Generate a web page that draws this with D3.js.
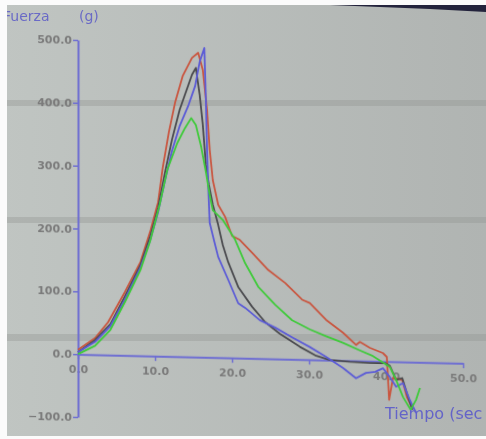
<!DOCTYPE html>
<html>
<head>
<meta charset="utf-8">
<script src="https://cdn.jsdelivr.net/npm/d3@7"></script>
<style>
  html, body { margin: 0; padding: 0; background: #fff; }
  svg { display: block; }
</style>
</head>
<body>
<div id="chart"></div>
<script>
// tick values
var xTicks = [0, 10, 20, 30, 40, 50]
var yTicks = [-100, 0, 100, 200, 300, 400, 500]

// [tiempo (s), fuerza (g)]
var redSeries = [[0,7],[2.2,26],[3.9,52],[6.1,101],[8.1,149],[9.35,197],[10.4,245],[11,300],[11.8,357],[12.6,404],[13.6,447],[14.8,476],[15.6,484],
  [16.2,457],[16.75,394],[17.1,330],[17.5,282],[18.2,243],[19.1,224],[20,194],[21,188],[22.6,168],[24.7,141],[26.9,121],[29.1,95],[30.1,90],
  [32.2,64],[34.4,44],[36.1,25],[36.6,30],[37.9,21],[39.6,13],[40.1,7],[40.4,-61],[40.9,-26],[42.1,-29],[42.7,-56],[43.4,-73]]

var blackSeries = [[0,3],[2.2,23],[4.2,49],[6.1,94],[8.1,144],[9.35,189],[10.4,236],[11.3,293],[12.2,345],[13.2,393],[14.2,428],[14.8,449],[15.3,460],
  [15.8,417],[16.2,370],[16.6,306],[17,274],[17.5,243],[18.2,211],[18.8,179],[19.5,152],[20.8,113],[22.6,82],[24.3,58],[26.2,40],[28.8,20],
  [30.8,7],[32.7,0],[35.3,-2],[37.9,-3],[39.9,-3],[40.5,-7],[41.3,-29],[42.1,-26],[42.9,-57],[43.4,-76]]

var blueSeries = [[0,3],[2.2,20],[4.2,46],[6.1,89],[8.1,140],[9.35,183],[10.4,229],[11.3,280],[12.2,327],[13.2,367],[14.3,399],[15.2,431],[15.8,470],[16.4,492],
  [16.6,410],[16.75,330],[16.9,274],[17.1,214],[17.7,184],[18.2,160],[19.5,124],[20.8,87],[21.7,80],[23.6,61],[25.7,49],[27.9,34],[30.1,20],
  [32.2,5],[34.4,-12],[36.1,-28],[37.4,-19],[38.6,-17],[39.6,-11],[40.5,-25],[41.3,-40],[42.2,-34],[43.1,-61],[43.9,-81]]

var greenSeries = [[0,0],[2.2,14],[4.2,40],[6.1,85],[8.1,136],[9.35,182],[10.6,241],[11.6,297],[12.9,340],[13.9,364],[14.7,380],
  [15.3,369],[16,334],[16.6,295],[17.1,258],[17.5,234],[18.8,219],[20.4,188],[21.7,151],[23.4,114],[25.6,86],[27.8,62],[30.1,48],
  [32.2,38],[34.4,28],[36.5,17],[38.3,8],[40.5,-9],[41.3,-29],[42.2,-56],[43.2,-76],[43.9,-60],[44.4,-41]]

var series = [
  {name: "rojo", data: redSeries, color: "#c9553f"},
  {name: "negro", data: blackSeries, color: "#4a4a4e"},
  {name: "azul", data: blueSeries, color: "#5b5bd6"},
  {name: "verde", data: greenSeries, color: "#3fca3a"}
]

var width = 486, height = 439

var svg = d3.select("#chart").append("svg")
    .attr("width", width).attr("height", height)

var defs = svg.append("defs")
var grad = defs.append("linearGradient").attr("id", "bg").attr("x1", 0).attr("x2", 1).attr("y1", 0).attr("y2", 0)
grad.append("stop").attr("offset", 0).attr("stop-color", "#c0c5c2")
grad.append("stop").attr("offset", 1).attr("stop-color", "#b0b4b2")
defs.append("filter").attr("id", "soft")
    .append("feGaussianBlur").attr("stdDeviation", 0.55)

// screen + photo artefacts
svg.append("rect").attr("x", 0).attr("y", 0).attr("width", width).attr("height", height).attr("fill", "url(#bg)")
;[[100, 6], [217, 6], [334, 7]].forEach(function(b){
    svg.append("rect").attr("x", 0).attr("y", b[0]).attr("width", width).attr("height", b[1])
        .attr("fill", "#8f918e").attr("opacity", 0.35)
})

var x = d3.scaleLinear().domain([0, 50]).range([78, 463])
var y = d3.scaleLinear().domain([-100, 500]).range([417, 40])

// the photo is taken slightly skewed: x axis drops toward the right
var g = svg.append("g")
    .attr("transform", "translate(78,0) skewY(1.34) translate(-78,0)")
    .attr("filter", "url(#soft)")

var axisColor = "#6e6ed2"

var xAxis = g.append("g")
    .attr("transform", "translate(0," + y(0) + ")")
    .call(d3.axisBottom(x).tickValues(xTicks).tickFormat(d3.format(".1f")).tickSize(5).tickSizeOuter(0).tickPadding(6))
var yAxis = g.append("g")
    .attr("transform", "translate(" + x(0) + ",0)")
    .call(d3.axisLeft(y).tickValues(yTicks).tickFormat(d3.format(".1f")).tickSize(5).tickSizeOuter(0).tickPadding(1))

;[xAxis, yAxis].forEach(function(a){
    a.select(".domain").attr("stroke", axisColor).attr("stroke-width", 2)
    a.selectAll(".tick line").attr("stroke", axisColor).attr("stroke-width", 1.5)
    a.selectAll(".tick text")
        .attr("fill", "#7a7a7a")
        .style("font-family", "DejaVu Sans")
        .style("font-size", "11px")
        .style("font-weight", "bold")
})

var line = d3.line()
    .x(function(d){ return x(d[0]) })
    .y(function(d){ return y(d[1]) })

g.selectAll(".curva")
    .data(series)
    .enter()
    .append("path")
    .attr("class", "curva")
    .attr("d", function(d){ return line(d.data) })
    .attr("fill", "none")
    .attr("stroke", function(d){ return d.color })
    .attr("stroke-width", 1.8)
    .attr("stroke-linejoin", "round")

// axis title, as much of it as the photo shows
svg.append("text")
    .attr("x", 385).attr("y", 419)
    .attr("fill", "#6464c8")
    .attr("filter", "url(#soft)")
    .style("font-family", "DejaVu Sans")
    .style("font-size", "16px")
    .text("Tiempo (sec")

var title = svg.append("g").attr("filter", "url(#soft)")
    .attr("fill", "#6a6ac6")
    .style("font-family", "DejaVu Sans")
    .style("font-size", "14px")
title.append("text").attr("x", 3).attr("y", 21).text("Fuerza")
title.append("text").attr("x", 79).attr("y", 21).text("(g)")

// white photo border and monitor bezel
svg.append("rect").attr("x", 0).attr("y", 0).attr("width", width).attr("height", 5).attr("fill", "#fbfbfb")
svg.append("rect").attr("x", 0).attr("y", 0).attr("width", 7).attr("height", height).attr("fill", "#fbfbfb")
svg.append("rect").attr("x", 0).attr("y", 436).attr("width", width).attr("height", 3).attr("fill", "#fbfbfb")
svg.append("path").attr("d", "M330,5 L486,5 L486,12 L430,9 Z").attr("fill", "#23233c")
</script>
</body>
</html>
